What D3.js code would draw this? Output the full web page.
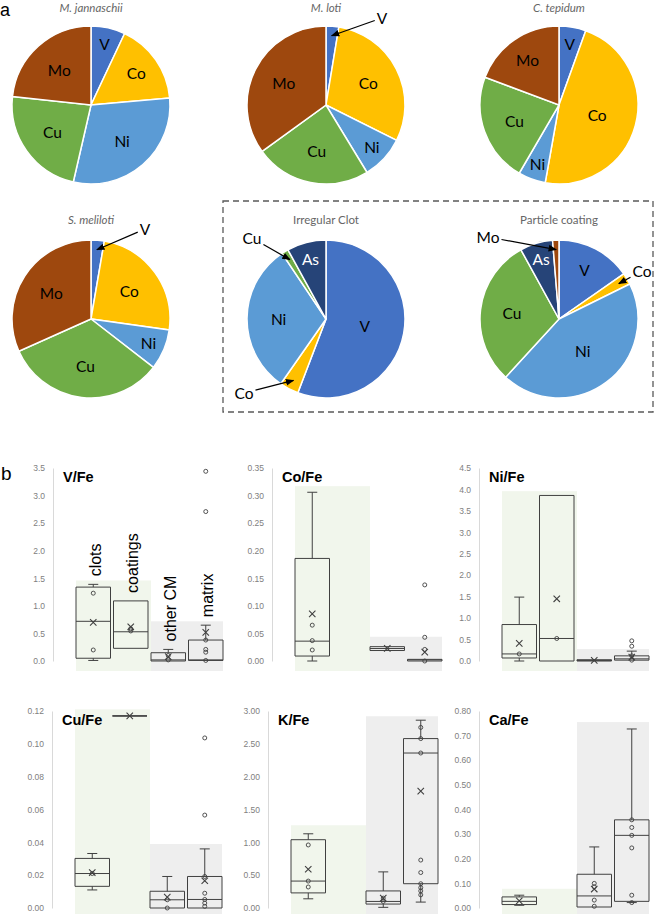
<!DOCTYPE html>
<html>
<head>
<meta charset="utf-8">
<script src="https://cdn.jsdelivr.net/npm/d3@7"></script>
<style>
  body { margin: 0; background: #fff; }
  svg { display: block; }
</style>
</head>
<body>
<svg id="chart" width="656" height="914"></svg>
<script>
"use strict";

// ---------- panel a : metal shares ----------
const pieTitles = ["M. jannaschii", "M. loti", "C. tepidum", "S. meliloti", "Irregular Clot", "Particle coating"];
const pieItalic = [true, true, true, true, false, false];
const pieElements = [
  ["V", "Co", "Ni", "Cu", "Mo"],
  ["V", "Co", "Ni", "Cu", "Mo"],
  ["V", "Co", "Ni", "Cu", "Mo"],
  ["V", "Co", "Ni", "Cu", "Mo"],
  ["V", "Co", "Ni", "Cu", "As"],
  ["V", "Co", "Ni", "Cu", "As", "Mo"]
];
const pieShares = [
  [7.0, 16.6, 30.0, 23.1, 23.3],
  [2.6, 29.8, 8.9, 23.7, 35.0],
  [5.5, 47.3, 5.6, 22.3, 19.3],
  [2.7, 24.5, 8.3, 32.8, 31.7],
  [55.8, 3.9, 30.9, 1.4, 8.0],
  [15.3, 2.4, 44.1, 30.2, 6.7, 1.3]
];
// slices too small to hold their label -> label outside with an arrow
const calloutSlices = [[], ["V"], [], ["V"], ["Co", "Cu"], ["Co", "Mo"]];

// ---------- panel b : ratio box plots ----------
const categories = ["clots", "coatings", "other CM", "matrix"];
const ratios = ["V/Fe", "Co/Fe", "Ni/Fe", "Cu/Fe", "K/Fe", "Ca/Fe"];
const axisMax = [3.5, 0.35, 4.5, 0.12, 3.0, 0.8];
const axisStep = [0.5, 0.05, 0.5, 0.02, 0.5, 0.1];
const axisDecimals = [1, 2, 1, 2, 2, 2];
const shadeCollected = [1.46, 0.317, 3.96, 0.121, 1.26, 0.078]; // behind clots + coatings
const shadeOther = [0.72, 0.044, 0.28, 0.039, 2.92, 0.755];     // behind other CM + matrix

// [whiskerLow, q1, median, q3, whiskerHigh, mean]; null = no data
const vFeBoxes = [
  [0.01, 0.05, 0.72, 1.34, 1.39, 0.70],
  [0.23, 0.23, 0.53, 1.09, 1.09, 0.62],
  [0.00, 0.00, 0.02, 0.15, 0.21, 0.08],
  [0.01, 0.01, 0.02, 0.38, 0.65, 0.52]
];
const vFePoints = [[1.23, 0.20], [0.585, 0.545], [0.10, 0.02], [3.44, 2.71, 0.38, 0.21, 0.16, 0.01]];

const coFeBoxes = [
  [0.0, 0.009, 0.036, 0.186, 0.306, 0.0855],
  null,
  [0.019, 0.019, 0.0226, 0.026, 0.026, 0.023],
  [0.0, 0.0, 0.002, 0.003, 0.003, 0.016]
];
const coFePoints = [[0.065, 0.037, 0.020], [], [], [0.138, 0.043, 0.021, 0.0]];

const niFeBoxes = [
  [0.0, 0.07, 0.165, 0.85, 1.49, 0.41],
  [0.0, 0.0, 0.525, 3.86, 3.86, 1.45],
  [0.0, 0.0, 0.01, 0.03, 0.03, 0.015],
  [0.02, 0.02, 0.05, 0.12, 0.23, 0.09]
];
const niFePoints = [[0.165], [0.525], [], [0.47, 0.345, 0.12, 0.02]];

const cuFeBoxes = [
  [0.011, 0.0132, 0.021, 0.0302, 0.0332, 0.0216],
  [0.117, 0.117, 0.117, 0.117, 0.117, 0.117],
  [0.0, 0.0, 0.005, 0.0102, 0.0192, 0.0066],
  [0.0, 0.0, 0.0052, 0.0192, 0.036, 0.0166]
];
const cuFePoints = [[0.021], [], [0.005, 0.0], [0.1036, 0.0566, 0.0192, 0.009, 0.0052, 0.003, 0.001]];

const kFeBoxes = [
  [0.14, 0.23, 0.41, 1.04, 1.13, 0.59],
  null,
  [0.01, 0.06, 0.10, 0.26, 0.55, 0.15],
  [0.09, 0.37, 2.36, 2.58, 2.86, 1.78]
];
const kFePoints = [[0.96, 0.41, 0.32], [], [0.15, 0.10], [2.75, 2.58, 2.36, 0.73, 0.54, 0.37, 0.31, 0.26, 0.20]];

const caFeBoxes = [
  [0.011, 0.014, 0.027, 0.045, 0.052, 0.029],
  null,
  [0.004, 0.004, 0.049, 0.137, 0.248, 0.077],
  [0.022, 0.027, 0.295, 0.358, 0.727, null]
];
const caFePoints = [[], [], [0.1, 0.086, 0.032, 0.007], [0.358, 0.327, 0.295, 0.244, 0.052, 0.022]];

const allBoxes = [vFeBoxes, coFeBoxes, niFeBoxes, cuFeBoxes, kFeBoxes, caFeBoxes];
const allPoints = [vFePoints, coFePoints, niFePoints, cuFePoints, kFePoints, caFePoints];

// ---------- styling / layout ----------
const elementColor = { V: "#4472C4", Co: "#FFC000", Ni: "#5B9BD5", Cu: "#70AD47", Mo: "#9E480E", As: "#264478" };
const pieFont = "Lato, 'Open Sans', sans-serif";
const boldFont = "'Liberation Sans', Arial, sans-serif";
const R = 79;
const pieCx = [91, 326, 559];
const pieCy = [105, 319];
const titleY = [12, 224];
const calloutPos = { "1-V": [56, -87], "3-V": [54, -90], "4-Cu": [-74, -81], "4-Co": [-82, 74], "5-Mo": [-71, -82], "5-Co": [83, -48] };

const svg = d3.select("#chart");

svg.append("defs").append("marker")
  .attr("id", "arrow")
  .attr("viewBox", "0 0 10 10")
  .attr("refX", 9).attr("refY", 5)
  .attr("markerWidth", 7).attr("markerHeight", 7)
  .attr("orient", "auto-start-reverse")
  .append("path").attr("d", "M0,1L10,5L0,9Z").attr("fill", "#000");

// panel letters
svg.append("text").attr("x", 0).attr("y", 16).text("a")
  .attr("font-family", boldFont).attr("font-size", 18).attr("fill", "#000");
svg.append("text").attr("x", 1).attr("y", 480).text("b")
  .attr("font-family", boldFont).attr("font-size", 19).attr("fill", "#000");

// dashed frame round the two clot pies
svg.append("rect")
  .attr("x", 223).attr("y", 201).attr("width", 430).attr("height", 211)
  .attr("fill", "none").attr("stroke", "#595959").attr("stroke-width", 1.3)
  .attr("stroke-dasharray", "6,4");

const pie = d3.pie().sort(null).value(d => d.v);
const arc = d3.arc().innerRadius(0).outerRadius(R);

pieTitles.forEach((title, i) => {
  const cx = pieCx[i % 3], cy = pieCy[Math.floor(i / 3)];
  const g = svg.append("g").attr("transform", `translate(${cx},${cy})`);
  const data = pieElements[i].map((el, j) => ({ el: el, v: pieShares[i][j] }));
  const slices = pie(data);

  svg.append("text")
    .attr("x", cx).attr("y", titleY[Math.floor(i / 3)])
    .attr("text-anchor", "middle")
    .attr("font-family", pieFont).attr("font-size", 11.5)
    .attr("font-style", pieItalic[i] ? "italic" : "normal")
    .attr("fill", "#666")
    .text(title);

  g.selectAll("path.slice").data(slices).enter().append("path")
    .attr("class", "slice")
    .attr("d", arc)
    .attr("fill", d => elementColor[d.data.el])
    .attr("stroke", "#fff").attr("stroke-width", 1.5);

  slices.forEach(s => {
    const mid = (s.startAngle + s.endAngle) / 2;
    const span = (s.endAngle - s.startAngle) * 180 / Math.PI;
    if (calloutSlices[i].includes(s.data.el)) {
      const pos = calloutPos[i + "-" + s.data.el];
      const t = g.append("text")
        .attr("x", pos[0]).attr("y", pos[1])
        .attr("text-anchor", "middle").attr("dominant-baseline", "central")
        .attr("font-family", pieFont).attr("font-size", 15.5).attr("fill", "#000")
        .text(s.data.el);
      const hw = t.node().getComputedTextLength() / 2 + 2, hh = 7;
      const ex = Math.sin(mid) * R * 0.88, ey = -Math.cos(mid) * R * 0.88;
      let dx = ex - pos[0], dy = ey - pos[1];
      const len = Math.hypot(dx, dy);
      dx /= len; dy /= len;
      const k = Math.min(Math.abs(dx) > 1e-6 ? hw / Math.abs(dx) : 1e9, Math.abs(dy) > 1e-6 ? hh / Math.abs(dy) : 1e9);
      g.append("line")
        .attr("x1", pos[0] + dx * k).attr("y1", pos[1] + dy * k)
        .attr("x2", ex).attr("y2", ey)
        .attr("stroke", "#000").attr("stroke-width", 1.2)
        .attr("marker-end", "url(#arrow)");
    } else {
      const frac = span < 40 ? 0.79 : span < 70 ? 0.7 : span > 150 ? 0.5 : 0.6;
      g.append("text")
        .attr("x", Math.sin(mid) * R * frac).attr("y", -Math.cos(mid) * R * frac)
        .attr("text-anchor", "middle").attr("dominant-baseline", "central")
        .attr("font-family", pieFont).attr("font-size", 15.5)
        .attr("fill", s.data.el === "As" ? "#fff" : "#000")
        .text(s.data.el);
    }
  });
});

// ---------- box plots ----------
const rowAxisX = [[53, 272, 479], [52, 268, 479]];
const rowZeroY = [661, 908];
const rowTopY = [468, 711];
const ink = "#404040";

ratios.forEach((ratio, i) => {
  const row = Math.floor(i / 3), col = i % 3;
  const axisX = rowAxisX[row][col];
  const x0 = axisX + 23;
  const x = d3.scaleBand().domain(categories).range([x0, x0 + 147]).paddingInner(0.08);
  const y = d3.scaleLinear().domain([0, axisMax[i]]).range([rowZeroY[row], rowTopY[row]]);
  const g = svg.append("g");
  const shadeBottom = rowZeroY[row] + 10;

  // background bands
  g.append("rect")
    .attr("x", x0).attr("y", y(shadeCollected[i]))
    .attr("width", x("other CM") - x0).attr("height", shadeBottom - y(shadeCollected[i]))
    .attr("fill", "#f1f6ec");
  g.append("rect")
    .attr("x", x("other CM")).attr("y", y(shadeOther[i]))
    .attr("width", x0 + 147 - x("other CM")).attr("height", shadeBottom - y(shadeOther[i]))
    .attr("fill", "#eeeeee");

  // value axis
  const ticks = d3.range(0, axisMax[i] + axisStep[i] / 2, axisStep[i]);
  const axis = g.append("g").attr("transform", `translate(${axisX},0)`)
    .call(d3.axisLeft(y).tickValues(ticks).tickFormat(d3.format("." + axisDecimals[i] + "f")).tickSize(0).tickPadding(8));
  axis.select(".domain").attr("stroke", "#d9d9d9");
  axis.selectAll("text").attr("fill", "#808080").attr("font-size", 8.5).attr("font-family", boldFont);

  g.append("text")
    .attr("x", axisX + 10).attr("y", rowTopY[row] + 14)
    .attr("font-family", boldFont).attr("font-weight", "bold").attr("font-size", 14.5)
    .attr("fill", "#000").text(ratio);

  const bw = x.bandwidth();
  allBoxes[i].forEach((b, c) => {
    const left = x(categories[c]), cxm = left + bw / 2;
    if (b) {
      const [lo, q1, med, q3, hi, mean] = b;
      const cap = 5;
      if (hi > q3) {
        g.append("line").attr("x1", cxm).attr("x2", cxm).attr("y1", y(q3)).attr("y2", y(hi)).attr("stroke", ink);
        g.append("line").attr("x1", cxm - cap).attr("x2", cxm + cap).attr("y1", y(hi)).attr("y2", y(hi)).attr("stroke", ink);
      }
      if (lo < q1) {
        g.append("line").attr("x1", cxm).attr("x2", cxm).attr("y1", y(q1)).attr("y2", y(lo)).attr("stroke", ink);
        g.append("line").attr("x1", cxm - cap).attr("x2", cxm + cap).attr("y1", y(lo)).attr("y2", y(lo)).attr("stroke", ink);
      }
      g.append("path")
        .attr("d", `M${left},${y(q3)}H${left + bw}V${y(q1)}H${left}Z`)
        .attr("fill", "none").attr("stroke", ink).attr("stroke-width", 1);
      g.append("line").attr("x1", left).attr("x2", left + bw).attr("y1", y(med)).attr("y2", y(med)).attr("stroke", ink);
      if (mean !== null) {
        g.append("path")
          .attr("transform", `translate(${cxm},${y(mean)})`)
          .attr("d", "M-3.2,-3.2L3.2,3.2M-3.2,3.2L3.2,-3.2")
          .attr("stroke", ink).attr("stroke-width", 1.1);
      }
      if (i === 0) {
        g.append("text")
          .attr("transform", `translate(${cxm + 2},${y(Math.max(hi, q3)) - 8}) rotate(-90)`)
          .attr("dominant-baseline", "central")
          .attr("font-family", boldFont).attr("font-size", 16).attr("fill", "#000")
          .text(categories[c]);
      }
    }
    g.selectAll(null).data(allPoints[i][c]).enter().append("circle")
      .attr("cx", cxm).attr("cy", d => y(d)).attr("r", 2)
      .attr("fill", "none").attr("stroke", ink).attr("stroke-width", 0.9);
  });
});
</script>
</body>
</html>
